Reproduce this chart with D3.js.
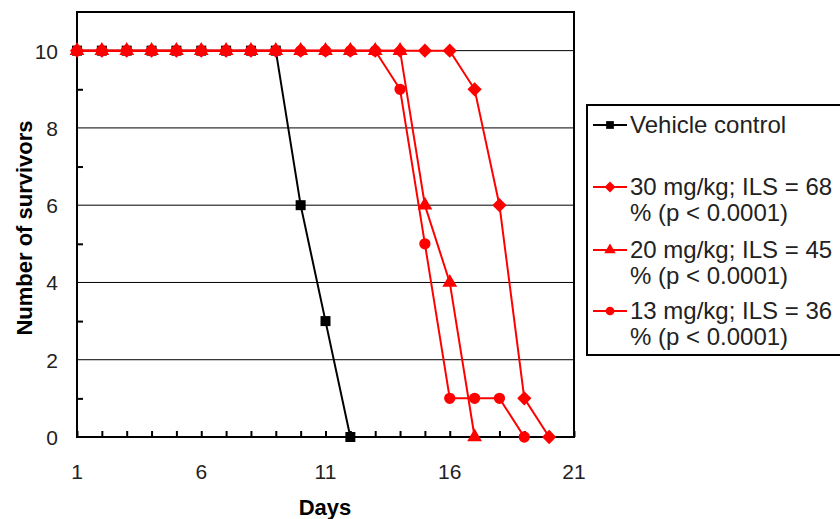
<!DOCTYPE html>
<html>
<head>
<meta charset="utf-8">
<script src="https://cdn.jsdelivr.net/npm/d3@7"></script>
<style>
  body { margin: 0; background: #fff; }
  svg { display: block; font-family: "Liberation Sans", Arial, sans-serif; }
</style>
</head>
<body>
<div id="chart"></div>
<script>
// Survival data (number of survivors per day)
const vehicle = [10, 10, 10, 10, 10, 10, 10, 10, 10, 6, 3, 0];
const dose30 = [10, 10, 10, 10, 10, 10, 10, 10, 10, 10, 10, 10, 10, 10, 10, 10, 9, 6, 1, 0];
const dose20 = [10, 10, 10, 10, 10, 10, 10, 10, 10, 10, 10, 10, 10, 10, 6, 4, 0];
const dose13 = [10, 10, 10, 10, 10, 10, 10, 10, 10, 10, 10, 10, 10, 9, 5, 1, 1, 1, 0];
const xTicks = [1, 6, 11, 16, 21];
const yTicks = [0, 2, 4, 6, 8, 10];
const legendLines = [
    ["Vehicle control"],
    ["30 mg/kg; ILS = 68", "% (p < 0.0001)"],
    ["20 mg/kg; ILS = 45", "% (p < 0.0001)"],
    ["13 mg/kg; ILS = 36", "% (p < 0.0001)"]
];

const width = 840, height = 519;
const margin = { left: 77, right: 266, top: 12, bottom: 82 };
const innerW = width - margin.left - margin.right;   // 497
const innerH = height - margin.top - margin.bottom;  // 425

const svg = d3.select("#chart").append("svg")
    .attr("width", width)
    .attr("height", height);

const g = svg.append("g")
    .attr("transform", `translate(${margin.left}, ${margin.top})`);

const x = d3.scaleLinear().domain([1, 21]).range([0, innerW]);
const y = d3.scaleLinear().domain([0, 11]).range([innerH, 0]);

// Gridlines
g.append("g")
    .selectAll("line")
    .data(yTicks.filter(d => d > 0))
    .enter()
    .append("line")
    .attr("x1", 0)
    .attr("x2", innerW)
    .attr("y1", d => y(d))
    .attr("y2", d => y(d))
    .attr("stroke", "#000")
    .attr("stroke-width", 1);

// x axis: minor ticks every day pointing up, labels every 5 days
const xAxis = g.append("g")
    .attr("transform", `translate(0, ${innerH})`)
    .call(d3.axisBottom(x).tickValues(d3.range(1, 22)).tickSize(-6).tickFormat(""));
xAxis.select(".domain").remove();
xAxis.selectAll("line").attr("stroke", "#000").attr("stroke-width", 2);

g.append("g")
    .selectAll("text")
    .data(xTicks)
    .enter()
    .append("text")
    .attr("x", d => x(d))
    .attr("y", innerH + 42)
    .attr("text-anchor", "middle")
    .attr("font-size", "21px")
    .attr("fill", "#222")
    .text(d => d);

// y axis: minor ticks at odd values, labels at even values
const yAxis = g.append("g")
    .call(d3.axisLeft(y).tickValues([1, 3, 5, 7, 9]).tickSize(-6).tickFormat(""));
yAxis.select(".domain").remove();
yAxis.selectAll("line").attr("stroke", "#000").attr("stroke-width", 2);

g.append("g")
    .selectAll("text")
    .data(yTicks)
    .enter()
    .append("text")
    .attr("x", -19)
    .attr("y", d => y(d) + 8)
    .attr("text-anchor", "end")
    .attr("font-size", "21px")
    .attr("fill", "#222")
    .text(d => d);

// Plot frame
g.append("rect")
    .attr("x", 0)
    .attr("y", 0)
    .attr("width", innerW)
    .attr("height", innerH)
    .attr("fill", "none")
    .attr("stroke", "#000")
    .attr("stroke-width", 2);

// Series
const series = [
    { values: vehicle, color: "#000", shape: d3.symbolSquare, size: 100 },
    { values: dose30, color: "#ff0000", shape: d3.symbolDiamond2, size: 130 },
    { values: dose20, color: "#ff0000", shape: d3.symbolTriangle, size: 95 },
    { values: dose13, color: "#ff0000", shape: d3.symbolCircle, size: 100 }
];

const line = d3.line()
    .x((d, i) => x(i + 1))
    .y(d => y(d));

series.forEach(s => {
    g.append("path")
        .datum(s.values)
        .attr("fill", "none")
        .attr("stroke", s.color)
        .attr("stroke-width", 2)
        .attr("d", line);

    g.selectAll(null)
        .data(s.values)
        .enter()
        .append("path")
        .attr("transform", (d, i) => `translate(${x(i + 1)}, ${y(d)})`)
        .attr("d", d3.symbol().type(s.shape).size(s.size))
        .attr("fill", s.color);
});

// Axis titles
svg.append("text")
    .attr("x", 325)
    .attr("y", 515)
    .attr("text-anchor", "middle")
    .attr("font-size", "22px")
    .attr("font-weight", "bold")
    .text("Days");

svg.append("text")
    .attr("transform", "rotate(-90)")
    .attr("x", -228)
    .attr("y", 32)
    .attr("text-anchor", "middle")
    .attr("font-size", "22px")
    .attr("font-weight", "bold")
    .text("Number of survivors");

// Legend
const legend = svg.append("g");
legend.append("rect")
    .attr("x", 587)
    .attr("y", 105)
    .attr("width", 270)
    .attr("height", 250)
    .attr("fill", "#fff")
    .attr("stroke", "#000")
    .attr("stroke-width", 2);

const legendY = [125, 187, 250, 311];
series.forEach((s, i) => {
    const ly = legendY[i];
    legend.append("line")
        .attr("x1", 593)
        .attr("x2", 627)
        .attr("y1", ly)
        .attr("y2", ly)
        .attr("stroke", s.color)
        .attr("stroke-width", 2);
    legend.append("path")
        .attr("transform", `translate(610, ${ly})`)
        .attr("d", d3.symbol().type(s.shape).size(s.size * 0.6))
        .attr("fill", s.color);
    legendLines[i].forEach((t, j) => {
        legend.append("text")
            .attr("x", 630)
            .attr("y", ly + 8 + j * 26)
            .attr("font-size", "24px")
            .attr("fill", "#222")
            .text(t);
    });
});
</script>
</body>
</html>
